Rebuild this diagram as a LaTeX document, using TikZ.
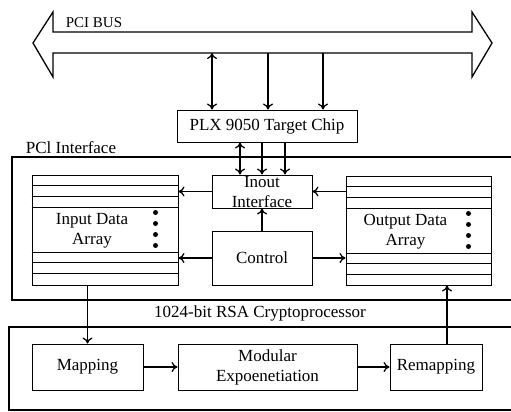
\documentclass[tikz,border=0pt]{standalone}
\usepackage{fontspec}
\setmainfont{Liberation Serif}
\usetikzlibrary{arrows.meta}
\tikzset{
  blk/.style={draw, line width=1pt, inner sep=0pt},
  frm/.style={line width=2.5pt},
  arr/.style={line width=1.3pt, -{To[length=6pt,width=10pt]}},
  darr/.style={line width=1.3pt, {To[length=6pt,width=10pt]}-{To[length=6pt,width=10pt]}},
}

\begin{document}
\begin{tikzpicture}[x=1pt, y=-1pt, font=\fontsize{17}{20}\selectfont]
\useasboundingbox (0,0) rectangle (511,412);
\clip (0,0) rectangle (511,412);
% PCI bus
\draw[line width=1.3pt, line join=miter] (33,43) -- (53,12) -- (53,32) -- (472,32) -- (472,12) -- (492,43)
  -- (472,77) -- (472,53) -- (53,53) -- (53,77) -- cycle;
\node (buslbl) at (94,22.5) {\fontsize{15}{16}\selectfont PCI BUS};
\coordinate (busb) at (0,53);
\coordinate (t1) at (212,0);
\coordinate (t2) at (268,0);
\coordinate (t3) at (323,0);
\coordinate (p1) at (240,0);
\coordinate (p2) at (262,0);
\coordinate (p3) at (285,0);
\coordinate (r1) at (447,0);
% outer frames
\draw[frm] (520,157) -- (12,157) -- (12,300) -- (520,300);
\node (pcilbl) at (71,148) {PCl Interface};
\draw[frm] (520,327) -- (9,327) -- (9,410) -- (520,410);
\node (rsalbl) at (260,313) {1024-bit RSA Cryptoprocessor};
% blocks
\node[blk, minimum width=180pt, minimum height=32pt] (plx) at (267,126) {PLX 9050 Target Chip};
\node[blk, minimum width=100pt, minimum height=33pt] (inout) at (262,191.5) {};
\node[align=center] (inoutlbl) at (262,192) {Inout\\Interface};
\node[blk, minimum width=100pt, minimum height=54pt] (ctrl) at (262,258) {Control};
\node[blk, minimum width=146pt, minimum height=110pt] (inarr) at (105,230) {};
\node[blk, minimum width=145pt, minimum height=109pt] (outarr) at (418.5,230.5) {};
\foreach \d in {11,22,33,78,88,99} {
  \draw[line width=0.8pt] ([yshift=-\d pt]inarr.north west) -- ([yshift=-\d pt]inarr.north east);
  \draw[line width=0.8pt] ([yshift=-\d pt]outarr.north west) -- ([yshift=-\d pt]outarr.north east);
}
\foreach \d in {38,49,60,71} {
  \fill ([xshift=-23pt, yshift=-\d pt]inarr.north east) circle (2.5);
  \fill ([xshift=-23pt, yshift=-\d pt]outarr.north east) circle (2.5);
}
\node[align=center] (inlbl) at ([xshift=-13pt, yshift=-1pt]inarr.center) {Input Data\\Array};
\node[align=center] (outlbl) at ([xshift=-13pt, yshift=-1pt]outarr.center) {Output Data\\Array};
\node[blk, minimum width=111pt, minimum height=46pt] (map) at (87.5,367) {Mapping};
\node[blk, minimum width=179pt, minimum height=46pt, align=center] (modexp) at (267.5,367) {Modular\\Expoenetiation};
\node[blk, minimum width=92pt, minimum height=46pt] (remap) at (436,367) {Remapping};
% connectors
\draw[darr] (t1 |- busb) -- (t1 |- plx.north);
\draw[arr] (t2 |- busb) -- (t2 |- plx.north);
\draw[arr] (t3 |- busb) -- (t3 |- plx.north);
\draw[darr] (p1 |- plx.south) -- (p1 |- inout.north);
\draw[arr] (p2 |- plx.south) -- (p2 |- inout.north);
\draw[arr] (p3 |- plx.south) -- (p3 |- inout.north);
\draw[arr] (inout.west) -- (inout.west -| inarr.east);
\draw[arr] (inout.east -| outarr.west) -- (inout.east);
\draw[arr] (ctrl.west) -- (ctrl.west -| inarr.east);
\draw[arr] (ctrl.east) -- (ctrl.east -| outarr.west);
\draw[arr] (ctrl.north) -- (inout.south);
\draw[arr] (map.north |- inarr.south) -- (map.north);
\draw[arr] (map.east) -- (modexp.west);
\draw[arr] (modexp.east) -- (remap.west);
\draw[arr] (r1 |- remap.north) -- (r1 |- outarr.south);
\end{tikzpicture}
\end{document}
